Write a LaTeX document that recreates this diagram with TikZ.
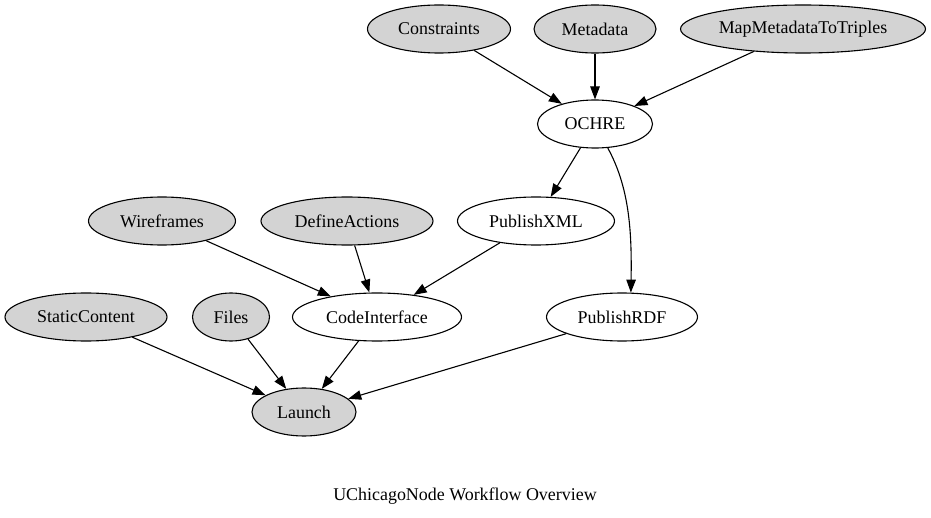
\documentclass[tikz,border=0pt]{standalone}
\usepackage{fontspec}
\setmainfont{Liberation Serif}
\usetikzlibrary{shapes.geometric,arrows.meta}
\definecolor{gvgray}{HTML}{D3D3D3}
\tikzset{
	job/.style={ellipse, draw, line width=1.1bp, minimum height=48bp, inner sep=0pt, font=\fontsize{18}{22}\selectfont},
	given/.style={job, fill=gvgray},
	flow/.style={line width=1.1bp, -{Triangle[length=13bp,width=9.5bp]}}
}

\begin{document}
\begin{tikzpicture}[x=1bp, y=1bp]
				%%%%% START %%%%%
				\useasboundingbox (0, 0) rectangle (931, -518);
				
				\node[given, minimum width=143bp] (constraints) at (439, -29) {Constraints};
				\node[given, minimum width=122bp] (metadata) at (595, -29) {Metadata};
				\node[given, minimum width=245bp] (maptriples) at (803, -29) {MapMetadataToTriples};
				
				\node[job, minimum width=115bp] (ochre) at (595, -124) {OCHRE};
				
				\node[given, minimum width=147bp] (wireframes) at (162, -221) {Wireframes};
				\node[given, minimum width=172bp] (defineactions) at (347, -221) {DefineActions};
				\node[job, minimum width=157bp] (publishxml) at (536, -221) {PublishXML};
				
				\node[given, minimum width=162bp] (staticcontent) at (86, -317) {StaticContent};
				\node[given, minimum width=77bp] (files) at (231, -317) {Files};
				\node[job, minimum width=169bp] (codeinterface) at (377, -317) {CodeInterface};
				\node[job, minimum width=151bp] (publishrdf) at (622, -317) {PublishRDF};
				
				\node[given, minimum width=104bp] (launch) at (304, -412) {Launch};
				
				\node[font=\fontsize{18}{22}\selectfont] (title) at (465, -496) {UChicagoNode Workflow Overview};
				
				\draw[flow] (constraints) -- (ochre);
				\draw[flow] (metadata) -- (ochre);
				\draw[flow] (maptriples) -- (ochre);
				
				\draw[flow] (ochre) -- (publishxml);
				\draw[flow] (ochre.-62) .. controls +(22, -40) and +(1, 60) .. (publishrdf.70);
				
				\draw[flow] (wireframes) -- (codeinterface);
				\draw[flow] (defineactions) -- (codeinterface);
				\draw[flow] (publishxml) -- (codeinterface);
				
				\draw[flow] (staticcontent) -- (launch);
				\draw[flow] (files) -- (launch);
				\draw[flow] (codeinterface) -- (launch);
				\draw[flow] (publishrdf) -- (launch);
				%%%%% END %%%%%
\end{tikzpicture}
\end{document}
